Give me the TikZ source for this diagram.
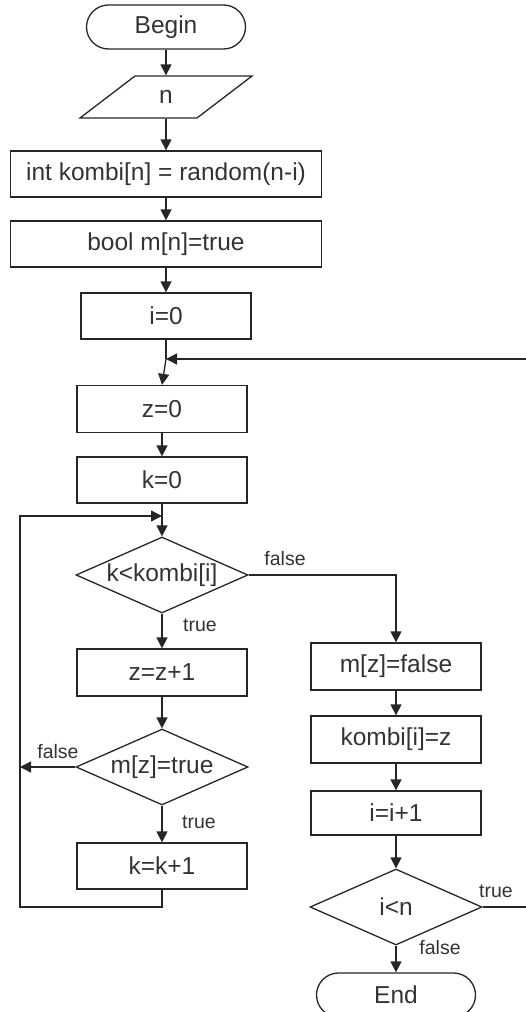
\documentclass[tikz,border=0pt]{standalone}
\usepackage{fontspec}
\setmainfont{Liberation Sans}
\usetikzlibrary{shapes.geometric,arrows.meta}
\begin{document}
\begin{tikzpicture}[x=1pt,y=-1pt,
  line width=1.3pt,
  every node/.style={text=black!80},
  base/.style={draw=black!85,inner sep=0pt,font=\fontsize{24.5}{29}\selectfont},
  procbox/.style={base,rectangle},
  termbox/.style={base,rectangle,rounded corners=22pt,minimum width=159pt,minimum height=44pt},
  decbox/.style={base,diamond,aspect=2.25,minimum width=172pt,minimum height=76pt},
  lbl/.style={font=\fontsize{19.5}{23}\selectfont,inner sep=0pt},
  arr/.style={draw=black!85,-{Triangle[length=11pt,width=11pt]}},
  ln/.style={draw=black!85}]
\useasboundingbox (0,0) rectangle (526,1012);
% nodes
\node[termbox] (begin) at (166,27) {Begin};
\node[base,draw=none,minimum width=172pt,minimum height=42pt] (n) at (166,97) {n};
\draw[draw=black!85] (135,76) -- (252,76) -- (197,118) -- (80,118) -- cycle;
\node[procbox,minimum width=311pt,minimum height=46pt] (kombi) at (166,174) {int kombi[n] = random(n-i)};
\node[procbox,minimum width=311pt,minimum height=46pt] (bool) at (166,244) {bool m[n]=true};
\node[procbox,minimum width=170pt,minimum height=46pt] (i0) at (166,316) {i=0};
\coordinate (j1) at (166,359);
\node[procbox,minimum width=170pt,minimum height=47pt] (z0) at (162,409) {z=0};
\node[procbox,minimum width=170pt,minimum height=46pt] (k0) at (162,480) {k=0};
\coordinate (j2) at (162,516);
\node[decbox] (d1) at (162,575) {k<kombi[i]};
\node[procbox,minimum width=170pt,minimum height=47pt] (z1) at (162,672.5) {z=z+1};
\node[decbox] (d2) at (162,767) {m[z]=true};
\node[procbox,minimum width=170pt,minimum height=46pt] (k1) at (162,866) {k=k+1};
\node[procbox,minimum width=170pt,minimum height=47pt] (mf) at (396,666.5) {m[z]=false};
\node[procbox,minimum width=170pt,minimum height=47pt] (kz) at (396,739.5) {kombi[i]=z};
\node[procbox,minimum width=170pt,minimum height=44pt] (ii) at (396,813) {i=i+1};
\node[decbox] (d3) at (396,907) {i<n};
\node[termbox] (end) at (396,995) {End};
\coordinate (c1) at (162,907);
\coordinate (c2) at (20,907);
\coordinate (c3) at (20,516);
\coordinate (c4) at (20,767);
\coordinate (c5) at (396,575);
\coordinate (c6) at (528,907);
\coordinate (c7) at (528,359);
% connectors
\draw[arr] (begin) -- (n.north);
\draw[arr] (n.south) -- (kombi);
\draw[arr] (kombi) -- (bool);
\draw[arr] (bool) -- (i0);
\draw[ln] (i0) -- (j1);
\draw[arr] (j1) -- (z0.north);
\draw[arr] (z0) -- (k0);
\draw[arr] (k0) -- (d1);
\draw[arr] (d1) -- (z1);
\draw[arr] (z1) -- (d2);
\draw[arr] (d2) -- (k1);
\draw[arr] (k1.south) -- (c1) -- (c2) -- (c3) -- (j2);
\draw[arr] (d2.west) -- (c4);
\draw[arr] (d1.east) -- (c5) -- (mf.north);
\draw[arr] (mf) -- (kz);
\draw[arr] (kz) -- (ii);
\draw[arr] (ii) -- (d3);
\draw[arr] (d3) -- (end);
\draw[arr] (d3.east) -- (c6) -- (c7) -- (j1);
% labels
\node[lbl] (l1) at (285,559) {false};
\node[lbl] (l2) at (200,625) {true};
\node[lbl] (l3) at (58,752) {false};
\node[lbl] (l4) at (199,822) {true};
\node[lbl] (l5) at (496,891) {true};
\node[lbl] (l6) at (440,948) {false};
\end{tikzpicture}
\end{document}
